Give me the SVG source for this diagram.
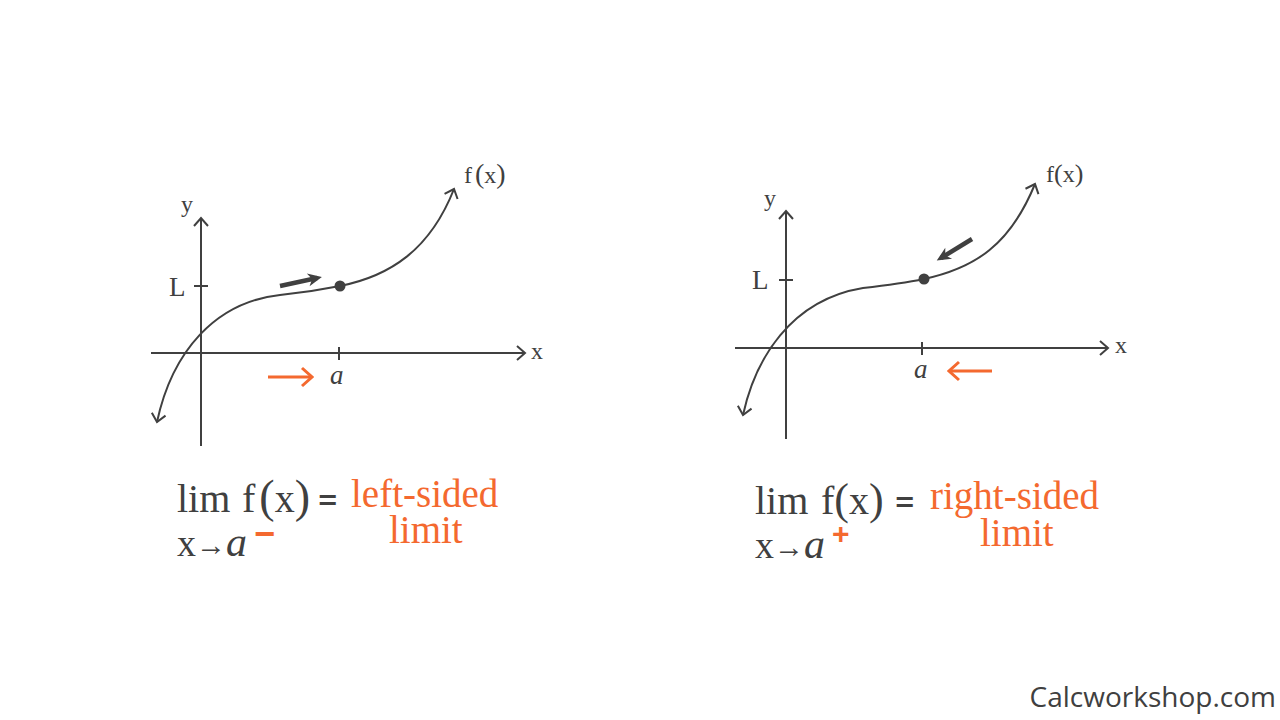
<svg xmlns="http://www.w3.org/2000/svg" width="1280" height="720" viewBox="0 0 1280 720">
<style>
.ln{fill:none;stroke:#404040;stroke-width:2}
.ax{fill:none;stroke:#404040;stroke-width:2;marker-end:url(#open)}
.cv{fill:none;stroke:#404040;stroke-width:2;marker-start:url(#open);marker-end:url(#open)}
.dk{fill:none;stroke:#404040;stroke-width:4.5;marker-end:url(#dark)}
.or{fill:none;stroke:#F4692F;stroke-width:3;marker-end:url(#oarr)}
.t{font-family:"Liberation Serif","Times New Roman",serif;fill:#404040}
.o{font-family:"Liberation Serif","Times New Roman",serif;fill:#F4692F}
.s{font-family:"Open Sans","Liberation Sans",sans-serif;fill:#404040}
</style>
<defs>
<marker id="open" viewBox="-12 -10 14 20" markerWidth="14" markerHeight="20" refX="0" refY="0" markerUnits="userSpaceOnUse" orient="auto-start-reverse">
<path d="M-8,-7 L0,0 L-8,7" fill="none" stroke="#404040" stroke-width="2"/>
</marker>
<marker id="oarr" viewBox="-14 -12 16 24" markerWidth="16" markerHeight="24" refX="0" refY="0" markerUnits="userSpaceOnUse" orient="auto">
<path d="M-10,-9 L0,0 L-10,9" fill="none" stroke="#F4692F" stroke-width="3"/>
</marker>
<marker id="dark" viewBox="-12 -8 18 16" markerWidth="18" markerHeight="16" refX="0" refY="0" markerUnits="userSpaceOnUse" orient="auto">
<path d="M5,0 L-9,-6.5 L-5,0 L-9,6.5 Z" fill="#404040"/>
</marker>
</defs>
<rect width="1280" height="720" fill="#ffffff"/>

<g id="left-graph">
<path class="ax" d="M201,446 L201,218"/>
<path class="ax" d="M151,353 L525,353"/>
<path class="ln" d="M194,286 L208,286"/>
<path class="ln" d="M339,347 L339,360"/>
<path class="cv" d="M157,422 C172,352 215,302 280,295 C300,293 320,290 340,286 C390,276 430,250 454,189"/>
<circle cx="340" cy="286" r="5.5" fill="#404040"/>
<path class="dk" d="M280,286 L317,278"/>
<path class="or" d="M268,377 L312,377"/>
<text class="t" x="181" y="212" font-size="24">y</text>
<text class="t" x="169" y="296" font-size="27">L</text>
<text class="t" x="531" y="359" font-size="24">x</text>
<text class="t" x="330" y="384" font-size="27" font-style="italic">a</text>
<text class="t" x="464" y="183" font-size="24">f<tspan dx="3" font-size="28">(</tspan>x<tspan font-size="28">)</tspan></text>
</g>

<g id="right-graph">
<path class="ax" d="M786,439 L786,211"/>
<path class="ax" d="M735,348 L1108,348"/>
<path class="ln" d="M779,280 L793,280"/>
<path class="ln" d="M922,342 L922,355"/>
<path class="cv" d="M743,415 C755,360 790,300 863,288 C890,285 905,283 924,279 C975,268 1010,245 1035,184"/>
<circle cx="924" cy="279" r="5.5" fill="#404040"/>
<path class="dk" d="M972,239 L941,258"/>
<path class="or" d="M992,371 L949,371"/>
<text class="t" x="764" y="206" font-size="24">y</text>
<text class="t" x="752" y="289" font-size="27">L</text>
<text class="t" x="1115" y="353" font-size="24">x</text>
<text class="t" x="914" y="378" font-size="27" font-style="italic">a</text>
<text class="t" x="1046" y="182" font-size="24">f<tspan font-size="26">(</tspan>x<tspan font-size="26">)</tspan></text>
</g>

<g id="left-formula">
<text class="t" x="177" y="512" font-size="40">lim</text>
<text class="t" x="242" y="512" font-size="40">f<tspan dx="4" font-size="46">(</tspan>x<tspan font-size="46">)</tspan></text>
<text class="s" x="318" y="512" font-size="34" font-weight="600">=</text>
<text class="o" x="351" y="507" font-size="39">left-sided</text>
<text class="o" x="389" y="543" font-size="39">limit</text>
<text class="t" x="177" y="556" font-size="38">x</text>
<text class="t" x="196" y="555" font-size="30" font-family="'DejaVu Sans',sans-serif">→</text>
<text class="t" x="226" y="556" font-size="42" font-style="italic">a</text>
<text x="254" y="546" font-size="36" font-weight="bold" fill="#F4692F" font-family="'Liberation Sans',Arial,sans-serif">−</text>
</g>

<g id="right-formula">
<text class="t" x="755" y="514" font-size="40">lim</text>
<text class="t" x="821" y="514" font-size="40">f<tspan font-size="44">(</tspan>x<tspan font-size="44">)</tspan></text>
<text class="s" x="895" y="514" font-size="34" font-weight="600">=</text>
<text class="o" x="930" y="509" font-size="39">right-sided</text>
<text class="o" x="980" y="546" font-size="39">limit</text>
<text class="t" x="755" y="558" font-size="38">x</text>
<text class="t" x="774" y="557" font-size="30" font-family="'DejaVu Sans',sans-serif">→</text>
<text class="t" x="804" y="558" font-size="42" font-style="italic">a</text>
<text x="832" y="544" font-size="30" font-weight="bold" fill="#F4692F" font-family="'Liberation Sans',Arial,sans-serif">+</text>
</g>

<g id="watermark">
<text class="s" x="1276" y="707" font-size="28" text-anchor="end" fill="#444444">Calcworkshop.com</text>
</g>
</svg>
